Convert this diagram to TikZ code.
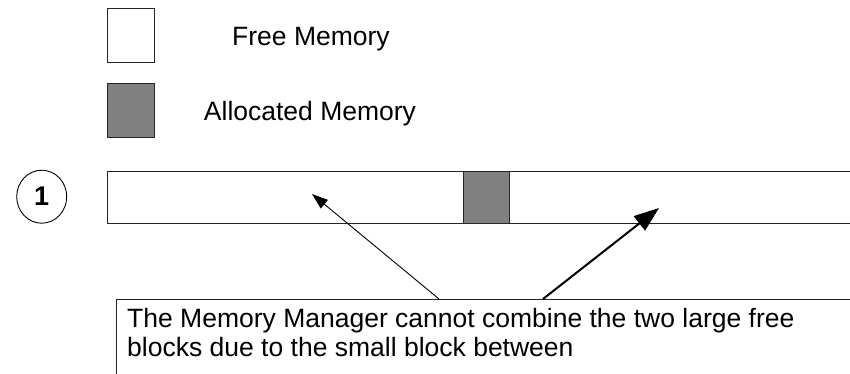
\documentclass[tikz,border=0pt]{standalone}
\usepackage{fontspec}
\setmainfont{Liberation Sans}
\usetikzlibrary{arrows.meta,shapes.geometric,calc}
\definecolor{memgray}{HTML}{808080}
\begin{document}
\begin{tikzpicture}[x=1pt,y=-1pt,
  cell/.style={draw=black!85, line width=1pt, inner sep=0pt, anchor=north west},
  freecell/.style={cell, fill=white},
  usedcell/.style={cell, fill=memgray},
  caption/.style={font=\fontsize{26.5}{28.6}\selectfont, inner sep=0pt},
  pointer/.style={-{Triangle[length=16pt,width=11pt]}, line width=0.9pt},
  boldpointer/.style={-{Triangle[length=25pt,width=18pt]}, line width=2pt},
]
\useasboundingbox (0,0) rectangle (850,374);
\clip (0,0) rectangle (850,374);

% legend
\node[freecell, minimum width=47pt, minimum height=53.4pt] (keyfree) at (107,8.3) {};
\node[usedcell, minimum width=47pt, minimum height=53.4pt] (keyused) at (107,83.3) {};
\node[caption, anchor=base] (keyfreetext) at (311,46) {Free Memory};
\node[caption, anchor=base] (keyusedtext) at (310,120.7) {Allocated Memory};

% step marker
\node[draw, ellipse, line width=0.9pt, minimum width=50pt, minimum height=53pt, inner sep=0pt,
      font=\fontsize{27}{27}\bfseries\selectfont] (stepone) at (41.7,196.7) {1};

% memory bar with one small allocated block
\node[freecell, minimum width=780pt, minimum height=52pt] (bar) at (107,171) {};
\node[usedcell, minimum width=46pt, minimum height=52pt] (small) at (462.7,171) {};

% explanation box
\node[cell, minimum width=760pt, minimum height=100pt] (note) at (116,299) {};
\node[caption, anchor=north west, align=left] (notetext) at (127,308.3)
  {The Memory Manager cannot combine the two large free\\blocks due to the small block between};

% pointers to the two free blocks
\coordinate (leftstart) at ($(note.north west)+(323,0)$);
\coordinate (rightstart) at ($(note.north west)+(427,0)$);
\coordinate (lefttip) at ($(bar.north west)+(205,23)$);
\coordinate (righttip) at ($(bar.north west)+(552,37)$);
\draw[pointer] (leftstart) -- (lefttip);
\draw[boldpointer] (rightstart) -- (righttip);
\end{tikzpicture}
\end{document}
